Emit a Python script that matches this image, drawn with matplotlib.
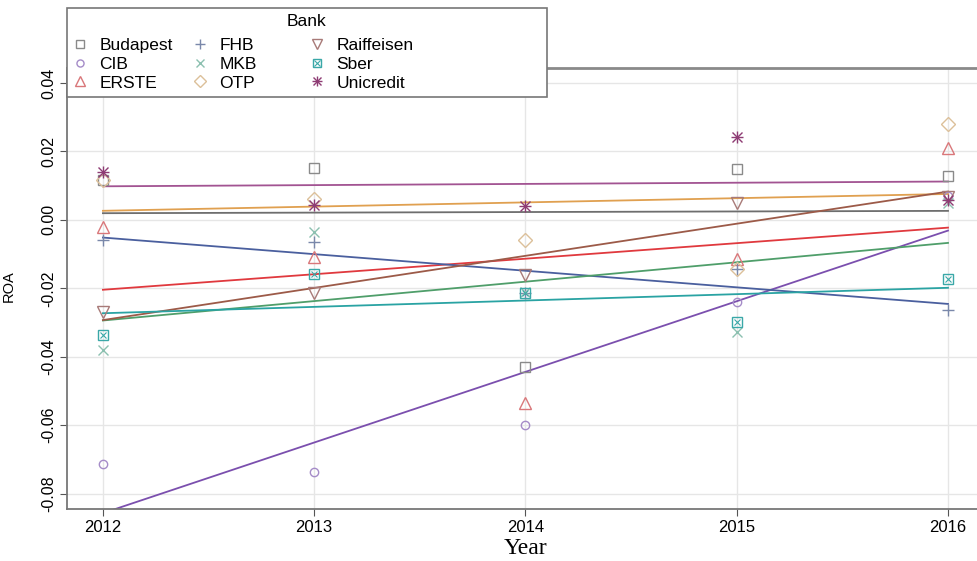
import numpy as np
import matplotlib.pyplot as plt
from matplotlib.lines import Line2D
from matplotlib.patches import Rectangle

plt.rcParams['font.family'] = ['Liberation Sans', 'DejaVu Sans']

years = [2012, 2013, 2014, 2015, 2016]
banks = ['Budapest', 'CIB', 'ERSTE', 'FHB', 'MKB', 'OTP', 'Raiffeisen', 'Sber', 'Unicredit']

# ROA per bank, 2012..2016
budapest = [0.0117, 0.0152, -0.0430, 0.0149, 0.0127]
cib = [-0.0714, -0.0737, -0.0600, -0.0240, 0.0070]
erste = [-0.0020, -0.0108, -0.0535, -0.0114, 0.0210]
fhb = [-0.0060, -0.0064, -0.0213, -0.0143, -0.0263]
mkb = [-0.0380, -0.0035, -0.0210, -0.0328, 0.0050]
otp = [0.0117, 0.0060, -0.0058, -0.0143, 0.0280]
raiffeisen = [-0.0270, -0.0213, -0.0160, 0.0050, 0.0068]
sber = [-0.0336, -0.0158, -0.0213, -0.0298, -0.0173]
unicredit = [0.0140, 0.0044, 0.0041, 0.0243, 0.0058]

values = [budapest, cib, erste, fhb, mkb, otp, raiffeisen, sber, unicredit]

line_colors = ['#6e6e6e', '#7b4fae', '#e0393e', '#4a5f9e', '#4f9e6a',
               '#e0a050', '#9c5a48', '#2aa3a3', '#a25392']
mark_colors = ['#8a8a8a', '#a58cc8', '#d9777a', '#7a88aa', '#8cc0b0',
               '#dcc09a', '#a87a78', '#3aa8a8', '#8e3c74']
markers = ['s', 'o', '^', '+', 'x', 'D', 'v', 's', '*']
msizes = [7, 6, 8, 9, 7, 7, 8, 7, 9]


def bank_handles(i, scale=1.0):
    # marker-only handles; Sber and Unicredit are two glyphs drawn on top of each other
    c = mark_colors[i]
    if banks[i] == 'Sber':
        return (Line2D([], [], linestyle='none', marker='s', ms=7*scale, mfc='none', mec=c, mew=1.0),
                Line2D([], [], linestyle='none', marker='x', ms=5*scale, color=c, mew=0.8))
    if banks[i] == 'Unicredit':
        return (Line2D([], [], linestyle='none', marker='+', ms=9*scale, color=c, mew=1.0),
                Line2D([], [], linestyle='none', marker='x', ms=7*scale, color=c, mew=1.0))
    return (Line2D([], [], linestyle='none', marker=markers[i], ms=msizes[i]*scale,
                   mfc='none', mec=c, color=c, mew=1.0),)


fig = plt.figure(figsize=(9.78, 5.61), dpi=100)
ax = fig.add_axes([67/978, 1 - 509/561, 1.0 - 67/978, (509 - 68)/561])

x = np.array(years)
for i, b in enumerate(banks):
    y = np.array(values[i])
    k, c = np.polyfit(x, y, 1)
    ax.plot(x, k*x + c, color=line_colors[i], lw=1.3, zorder=2)
    for h in bank_handles(i):
        ax.plot(x, y, linestyle='none', marker=h.get_marker(), ms=h.get_markersize(),
                mfc='none', mec=h.get_markeredgecolor(), mew=h.get_markeredgewidth(),
                zorder=3)

ax.set_xlim(2011.83, 2016.142)
ax.set_ylim(-0.0845, 0.0444)
ax.set_xticks(years)
ax.set_xticklabels([str(v) for v in years])
ax.set_yticks([-0.08, -0.06, -0.04, -0.02, 0.00, 0.02, 0.04])
ax.set_yticklabels(['-0.08', '-0.06', '-0.04', '-0.02', '0.00', '0.02', '0.04'],
                   rotation=90, va='center')
ax.grid(True, color='#e6e6e6', lw=1.0, zorder=0)
ax.set_axisbelow(True)
ax.tick_params(axis='x', labelsize=12, length=5, color='#555555', pad=3)
ax.tick_params(axis='y', labelsize=11.5, length=5, color='#555555', pad=3)
for s in ['left', 'bottom']:
    ax.spines[s].set_color('#777777')
    ax.spines[s].set_linewidth(1.3)
ax.spines['top'].set_color('#8a8a8a')
ax.spines['top'].set_linewidth(2.0)
ax.spines['right'].set_visible(False)

fig.text(525/978, 1 - 549/561, 'Year', family=['Liberation Serif', 'DejaVu Serif'],
         fontsize=17, ha='center', va='center')
fig.text(9/978, 1 - 286/561, 'ROA', rotation=90, fontsize=10.5, ha='center', va='center')

# legend box
fig.patches.append(Rectangle((67/978, 1 - 97/561), 480/978, 89/561,
                             transform=fig.transFigure, facecolor='white',
                             edgecolor='#777777', lw=1.2, zorder=5))
fig.text(307/978, 1 - 22/561, 'Bank', fontsize=12.5, ha='center', va='center', zorder=6)

col_x = [68, 188, 305]
for j in range(3):
    idx = [3*j, 3*j + 1, 3*j + 2]
    leg = fig.legend([bank_handles(i, 0.85) for i in idx], [banks[i] for i in idx],
                     frameon=False, fontsize=12.5, loc='upper left',
                     bbox_to_anchor=(col_x[j]/978, 1 - 34/561),
                     handlelength=1.0, handletextpad=0.6,
                     labelspacing=0.22, borderpad=0.2, borderaxespad=0)
    leg.set_zorder(7)

fig.savefig('out.png', dpi=100)
